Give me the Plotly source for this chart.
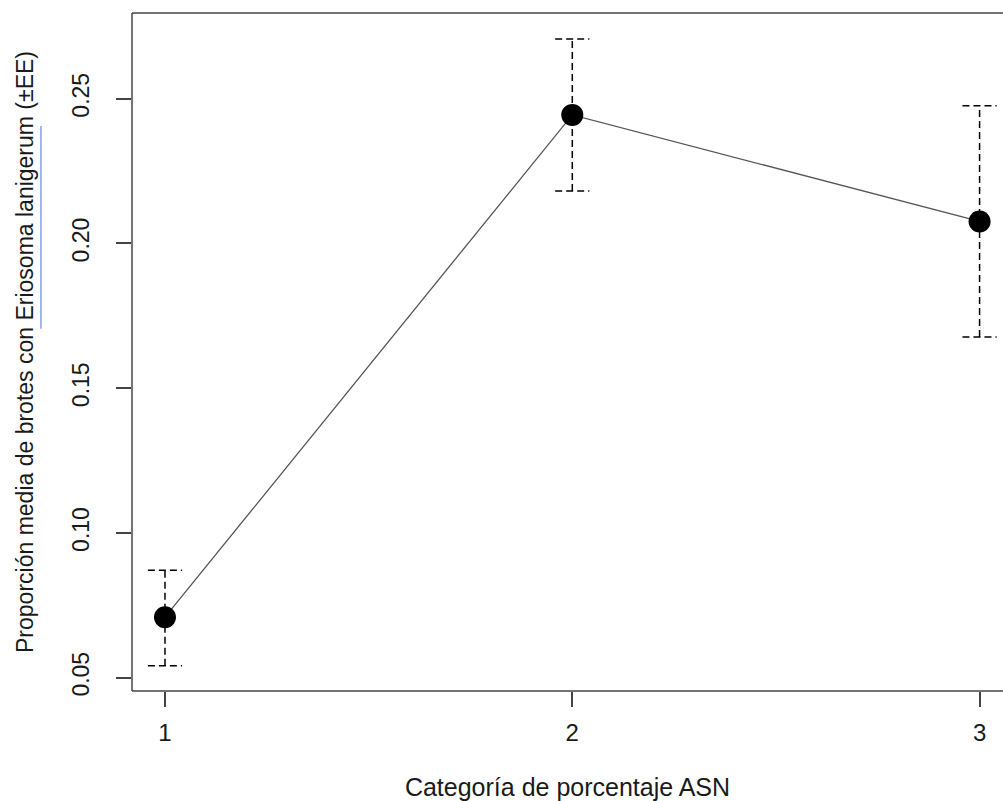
import plotly.graph_objects as go

# Data
categories = [1, 2, 3]
means = [0.0709, 0.2444, 0.2076]
upper = [0.0871, 0.2706, 0.2476]
lower = [0.0541, 0.2181, 0.1677]
x_tick_labels = ["1", "2", "3"]
y_tick_values = [0.05, 0.10, 0.15, 0.20, 0.25]

CAP = 0.042  # half-width of caps in x units

# Build dashed error bar geometry from data
ex, ey = [], []
for x, lo, hi in zip(categories, lower, upper):
    ex += [x, x, None, x - CAP, x + CAP, None, x - CAP, x + CAP, None]
    ey += [lo, hi, None, hi, hi, None, lo, lo, None]

FONT = "Liberation Sans, Arial, sans-serif"
TXT = "#1a1a1a"
AX = "#444444"

fig = go.Figure()
fig.add_trace(go.Scatter(
    x=ex, y=ey, mode="lines",
    line=dict(color="black", width=1.5, dash="7px,4px"),
    hoverinfo="skip", showlegend=False))
fig.add_trace(go.Scatter(
    x=categories, y=means, mode="lines",
    line=dict(color="#555555", width=1.3),
    showlegend=False))
fig.add_trace(go.Scatter(
    x=categories, y=means, mode="markers",
    marker=dict(color="black", size=22),
    showlegend=False))

# plot frame: left, bottom, top (right side lies outside the picture)
frame = dict(color=AX, width=1.5)
fig.add_shape(type="line", xref="paper", yref="paper", x0=0, x1=0, y0=0, y1=1, line=frame)
fig.add_shape(type="line", xref="paper", yref="paper", x0=0, x1=1, y0=0, y1=0, line=frame)
fig.add_shape(type="line", xref="paper", yref="paper", x0=0, x1=1, y0=1, y1=1, line=frame)

# blue underline under the species name in the y-axis title
fig.add_shape(type="line", xref="paper", yref="paper",
              x0=-0.1045, x1=-0.1045, y0=0.5343, y1=0.8335,
              line=dict(color="#4a6fd8", width=1))

fig.update_layout(
    width=1003, height=801,
    margin=dict(l=132, r=0, t=13, b=110),
    paper_bgcolor="white", plot_bgcolor="white",
    font=dict(family=FONT, color=TXT, size=22),
    xaxis=dict(
        range=[0.919, 3.0575],
        tickvals=categories, ticktext=x_tick_labels,
        ticks="outside", ticklen=15, tickwidth=1.5, tickcolor=AX,
        showline=False,
        showgrid=False, zeroline=False,
        tickfont=dict(size=24, color=TXT),
        ticklabelstandoff=5,
        title=dict(text="Categoría de porcentaje ASN",
                   font=dict(size=25, color=TXT), standoff=36),
    ),
    yaxis=dict(
        range=[0.0454, 0.2796],
        tickvals=y_tick_values, tickformat=".2f",
        ticks="outside", ticklen=15, tickwidth=1.5, tickcolor=AX,
        showline=False,
        showgrid=False, zeroline=False,
        tickangle=-90,
        tickfont=dict(size=23, color=TXT),
        ticklabelstandoff=18,
        title=dict(
            text="Proporción media de brotes con Eriosoma lanigerum (±EE)",
            font=dict(size=23, color=TXT), standoff=27),
    ),
)

fig.write_html(
    "out.html",
    config={"displayModeBar": False},
    post_script="document.body.style.margin='0';"
                "document.documentElement.style.overflow='hidden';"
                "document.body.style.overflow='hidden';",
)
